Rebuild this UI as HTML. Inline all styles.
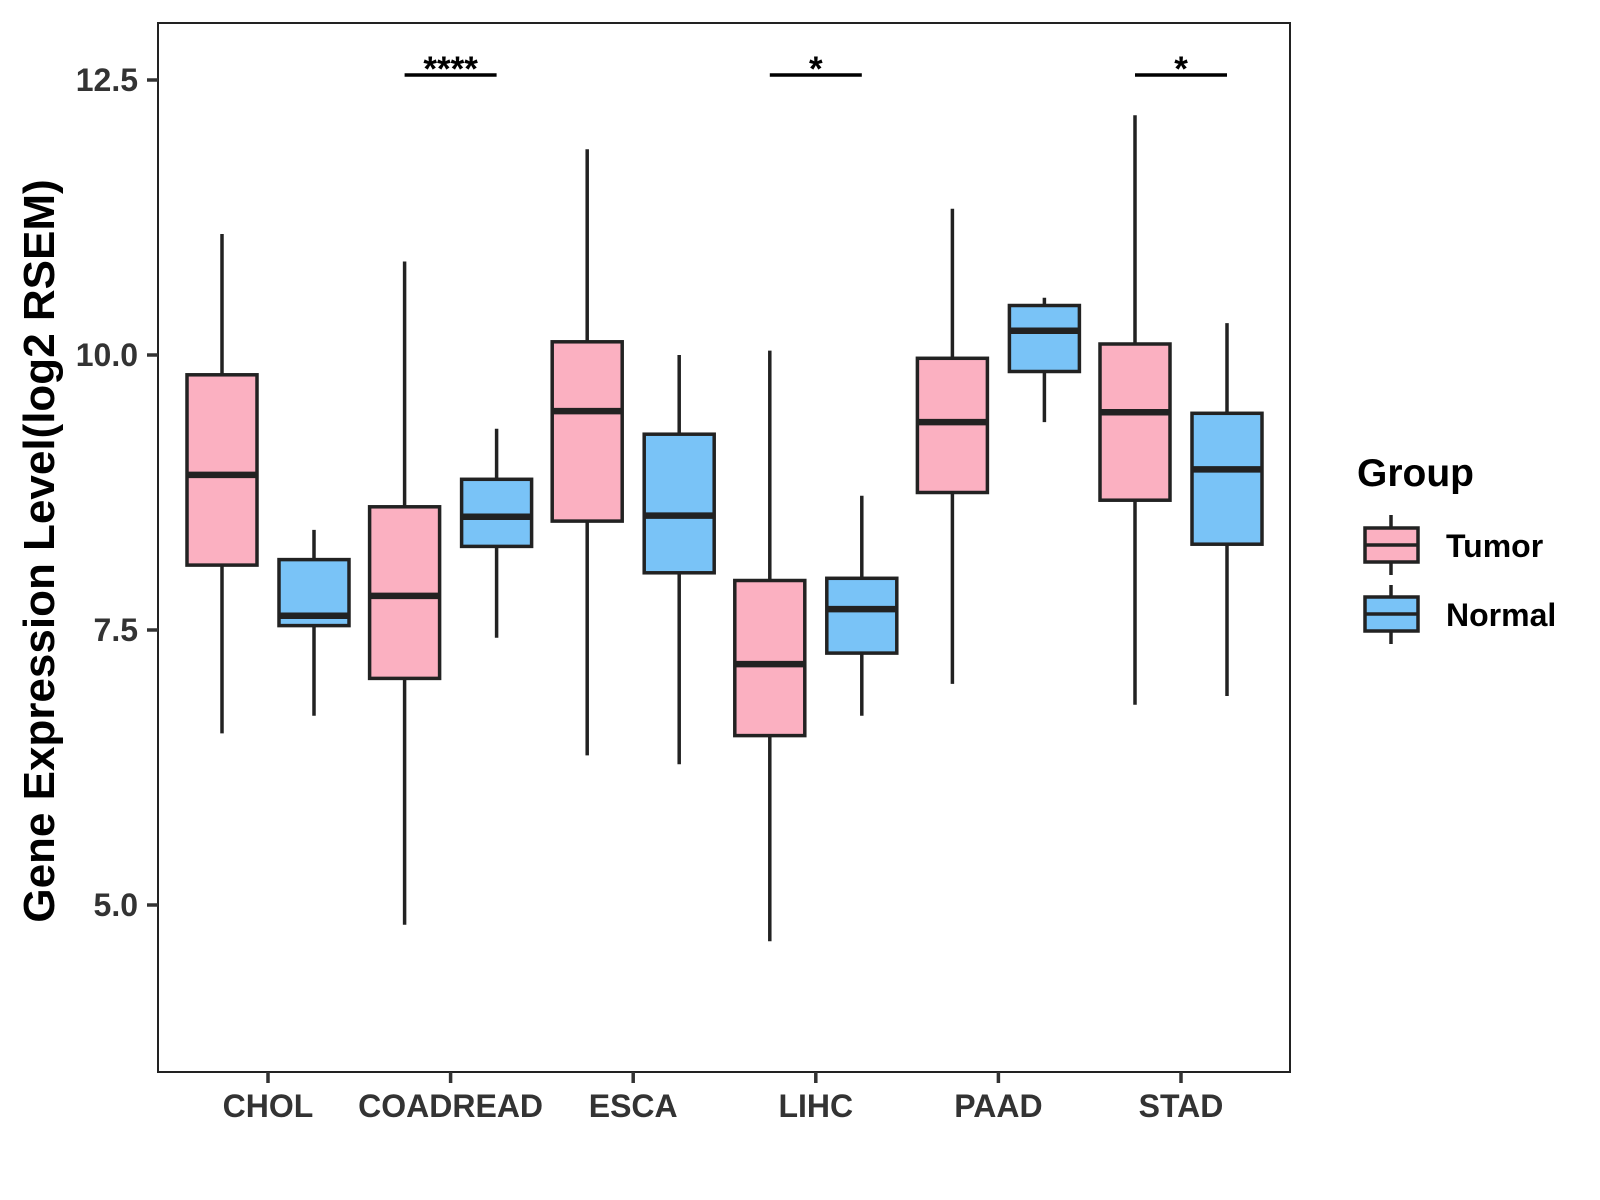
<!DOCTYPE html>
<html><head><meta charset="utf-8"><style>
html,body{margin:0;padding:0;background:#fff;}
svg{display:block;font-family:"Liberation Sans",Arial,sans-serif;}
</style></head><body>
<svg id="chart" width="1600" height="1200" viewBox="0 0 1600 1200">
<rect x="0" y="0" width="1600" height="1200" fill="#fff"/>
<g id="marks"></g>
<rect x="158" y="23" width="1132" height="1049" fill="none" stroke="#222" stroke-width="2"/>
<g id="axes"></g>
<text x="0" y="0" transform="translate(54,551) rotate(-90)" text-anchor="middle" font-size="44" font-weight="bold" fill="#000">Gene Expression Level(log2 RSEM)</text>
<g transform="translate(-7,0)">
<text x="1364" y="486" font-size="39" font-weight="bold" fill="#000">Group</text>
<g>
<line x1="1398" y1="515" x2="1398" y2="575" stroke="#222" stroke-width="3.5"/>
<rect x="1372" y="528" width="53" height="34" fill="#FBB0C1" stroke="#222" stroke-width="3.5"/>
<line x1="1372" y1="545" x2="1425" y2="545" stroke="#222" stroke-width="3.5"/>
<text x="1453" y="557" font-size="32" font-weight="bold" fill="#000">Tumor</text>
</g>
<g>
<line x1="1398" y1="585" x2="1398" y2="644" stroke="#222" stroke-width="3.5"/>
<rect x="1372" y="597" width="53" height="34" fill="#79C3F7" stroke="#222" stroke-width="3.5"/>
<line x1="1372" y1="614" x2="1425" y2="614" stroke="#222" stroke-width="3.5"/>
<text x="1453" y="626" font-size="32" font-weight="bold" fill="#000">Normal</text>
</g>
</g>
</svg>
<script>
const categories = ["CHOL","COADREAD","ESCA","LIHC","PAAD","STAD"];
// [lowWhisker, Q1, median, Q3, highWhisker]
const tumorStats = [
  [6.56,8.09,8.91,9.82,11.10],
  [4.82,7.06,7.81,8.62,10.85],
  [6.36,8.49,9.49,10.12,11.87],
  [4.67,6.54,7.19,7.95,10.04],
  [7.01,8.75,9.39,9.97,11.33],
  [6.82,8.68,9.48,10.10,12.18]
];
const normalStats = [
  [6.72,7.54,7.63,8.14,8.41],
  [7.43,8.26,8.53,8.87,9.33],
  [6.28,8.02,8.54,9.28,10.00],
  [6.72,7.29,7.69,7.97,8.72],
  [9.39,9.85,10.22,10.45,10.52],
  [6.90,8.28,8.96,9.47,10.29]
];
const significance = ["","****","","*","","*"];
const yTicks = [5.0,7.5,10.0,12.5];
const yTickLabels = ["5.0","7.5","10.0","12.5"];

const NS="http://www.w3.org/2000/svg";
function yScale(v){return 80+(12.5-v)*110;}
function xScale(i){return 268+i*182.6;}
const BW=70, OFF=46;
function mk(tag,attrs,parent){const e=document.createElementNS(NS,tag);for(const k in attrs)e.setAttribute(k,attrs[k]);parent.appendChild(e);return e;}
const marks=document.getElementById('marks');
const axes=document.getElementById('axes');

function drawBox(s,cx,fill,name){
  const g=mk('g',{},marks);
  
  
  mk('line',{x1:cx,x2:cx,y1:yScale(s[4]),y2:yScale(s[0]),stroke:'#222','stroke-width':3.5},g);
  mk('rect',{x:cx-BW/2,y:yScale(s[3]),width:BW,height:yScale(s[1])-yScale(s[3]),fill:fill,stroke:'#222','stroke-width':3.5},g);
  mk('line',{x1:cx-BW/2,x2:cx+BW/2,y1:yScale(s[2]),y2:yScale(s[2]),stroke:'#222','stroke-width':6.5},g);
}
categories.forEach((c,i)=>{
  const cx=xScale(i);
  drawBox(tumorStats[i],cx-OFF,'#FBB0C1','box-tumor-'+c.toLowerCase());
  drawBox(normalStats[i],cx+OFF,'#79C3F7','box-normal-'+c.toLowerCase());
  if(significance[i]){
    const g=mk('g',{},marks);
    
    
    mk('line',{x1:cx-OFF,x2:cx+OFF,y1:75,y2:75,stroke:'#000','stroke-width':3.5},g);
    const t=mk('text',{x:cx,y:81,'text-anchor':'middle','font-size':35,'font-weight':'bold',fill:'#000'},g);
    t.textContent=significance[i];
  }
  const tk=mk('line',{x1:cx,x2:cx,y1:1072,y2:1083,stroke:'#333','stroke-width':3.5},axes);
  
  
  const lb=mk('text',{x:cx,y:1117,'text-anchor':'middle','font-size':32,'font-weight':'bold',fill:'#333'},axes);
  
  
  lb.textContent=c;
});
yTicks.forEach((v,i)=>{
  const y=yScale(v);
  const tk=mk('line',{x1:147,x2:158,y1:y,y2:y,stroke:'#333','stroke-width':3.5},axes);
  
  
  const lb=mk('text',{x:138,y:y+11,'text-anchor':'end','font-size':32,'font-weight':'bold',fill:'#333'},axes);
  
  
  lb.textContent=yTickLabels[i];
});
</script>
</body></html>
